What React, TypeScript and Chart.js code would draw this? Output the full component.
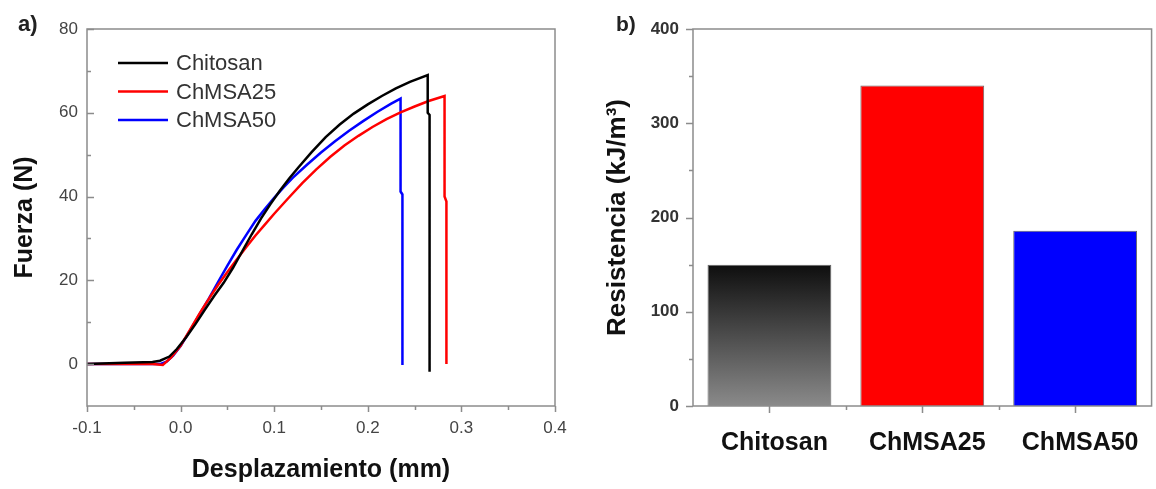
import React, { useEffect, useRef } from 'react';
import { Chart, registerables } from 'chart.js';

Chart.register(...registerables);

const FONT = "'Liberation Sans', Arial, Helvetica, sans-serif";
const AXIS_COLOR = '#8c8c8c';

// ---------- Panel a) : force vs displacement ----------
const SERIES_LABELS = ['Chitosan', 'ChMSA25', 'ChMSA50'];
const SERIES_COLORS = ['#000000', '#ff0000', '#0000ff'];

const chitosanX = [-0.1, -0.06, -0.03, -0.022, -0.012, -0.004, 0.006, 0.016, 0.026, 0.036, 0.046, 0.056, 0.066, 0.076, 0.086, 0.096, 0.106, 0.116, 0.126, 0.14, 0.155, 0.17, 0.185, 0.2, 0.215, 0.23, 0.245, 0.264, 0.264, 0.266, 0.266];
const chitosanY = [0, 0.3, 0.5, 0.8, 1.8, 3.6, 6.4, 9.6, 13.0, 16.3, 19.4, 23.0, 27.0, 31.0, 34.8, 38.2, 41.4, 44.3, 47.0, 50.6, 54.2, 57.2, 59.8, 62.0, 64.0, 65.8, 67.4, 69.0, 60.0, 59.5, -1.8];

const chmsa25X = [-0.1, -0.03, -0.019, -0.01, 0.0, 0.01, 0.02, 0.03, 0.04, 0.05, 0.06, 0.07, 0.08, 0.09, 0.1, 0.115, 0.13, 0.145, 0.16, 0.175, 0.19, 0.205, 0.22, 0.235, 0.25, 0.265, 0.282, 0.282, 0.284, 0.284];
const chmsa25Y = [0, 0, -0.2, 1.6, 4.4, 8.2, 12.0, 15.5, 18.9, 22.0, 25.0, 27.9, 30.7, 33.3, 35.9, 39.6, 43.2, 46.5, 49.5, 52.2, 54.5, 56.6, 58.5, 60.1, 61.5, 62.8, 64.0, 40.0, 38.8, 0];

const chmsa50X = [-0.1, -0.022, -0.015, -0.008, 0.0, 0.01, 0.02, 0.03, 0.04, 0.05, 0.06, 0.07, 0.08, 0.09, 0.1, 0.11, 0.12, 0.135, 0.15, 0.165, 0.18, 0.195, 0.21, 0.225, 0.235, 0.235, 0.237, 0.237];
const chmsa50Y = [0, 0, 0.6, 2.0, 4.3, 8.0, 11.8, 15.6, 19.6, 23.5, 27.3, 30.8, 34.2, 37.0, 39.7, 42.2, 44.5, 47.6, 50.5, 53.2, 55.7, 58.0, 60.2, 62.2, 63.4, 41.2, 40.5, -0.2];

const LEFT_X_TICKS = [-0.1, 0, 0.1, 0.2, 0.3, 0.4];
const LEFT_X_MINOR = [-0.05, 0.05, 0.15, 0.25, 0.35];
const LEFT_Y_TICKS = [0, 20, 40, 60, 80];
const LEFT_Y_MINOR = [10, 30, 50, 70];

// ---------- Panel b) : resistance bars ----------
const BAR_CATEGORIES = ['Chitosan', 'ChMSA25', 'ChMSA50'];
const BAR_VALUES = [150, 340, 186];
const BAR_COLORS = ['#4a4a4a', '#ff0000', '#0000ff'];
const RIGHT_Y_TICKS = [0, 100, 200, 300, 400];
const RIGHT_Y_MINOR = [50, 150, 250, 350];

function toPoints(xs: number[], ys: number[]) {
  return xs.map((x, i) => ({ x, y: ys[i] }));
}

const leftDecor = {
  id: 'leftDecor',
  afterDraw(chart: any) {
    const { ctx, chartArea: a, scales } = chart;
    const xs = scales.x;
    const ys = scales.y;
    ctx.save();
    ctx.strokeStyle = AXIS_COLOR;
    ctx.lineWidth = 1.5;
    ctx.strokeRect(a.left, a.top, a.right - a.left, a.bottom - a.top);
    ctx.beginPath();
    LEFT_Y_TICKS.forEach((v) => {
      const p = Math.round(ys.getPixelForValue(v)) + 0.5;
      ctx.moveTo(a.left, p);
      ctx.lineTo(a.left + 7, p);
    });
    LEFT_Y_MINOR.forEach((v) => {
      const p = Math.round(ys.getPixelForValue(v)) + 0.5;
      ctx.moveTo(a.left, p);
      ctx.lineTo(a.left + 4, p);
    });
    LEFT_X_TICKS.forEach((v) => {
      const p = Math.round(xs.getPixelForValue(v)) + 0.5;
      ctx.moveTo(p, a.bottom);
      ctx.lineTo(p, a.bottom + 6);
    });
    LEFT_X_MINOR.forEach((v) => {
      const p = Math.round(xs.getPixelForValue(v)) + 0.5;
      ctx.moveTo(p, a.bottom);
      ctx.lineTo(p, a.bottom + 4);
    });
    ctx.stroke();

    // legend
    ctx.font = `22px ${FONT}`;
    ctx.textBaseline = 'middle';
    ctx.textAlign = 'left';
    chart.data.datasets.forEach((ds: any, i: number) => {
      const y = a.top + 34 + i * 28.5;
      ctx.strokeStyle = ds.borderColor;
      ctx.lineWidth = 2.5;
      ctx.beginPath();
      ctx.moveTo(a.left + 31, y);
      ctx.lineTo(a.left + 81, y);
      ctx.stroke();
      ctx.fillStyle = '#333333';
      ctx.fillText(ds.label, a.left + 89, y + 1);
    });

    // panel label
    ctx.font = `bold 22px ${FONT}`;
    ctx.fillStyle = '#222222';
    ctx.fillText('a)', 18, 25);
    ctx.restore();
  },
};

const rightDecor = {
  id: 'rightDecor',
  afterDraw(chart: any) {
    const { ctx, chartArea: a, scales } = chart;
    const xs = scales.x;
    const ys = scales.y;
    ctx.save();
    ctx.strokeStyle = AXIS_COLOR;
    ctx.lineWidth = 1.5;
    ctx.strokeRect(a.left, a.top, a.right - a.left, a.bottom - a.top);
    ctx.beginPath();
    RIGHT_Y_TICKS.forEach((v) => {
      const p = Math.round(ys.getPixelForValue(v)) + 0.5;
      ctx.moveTo(a.left, p);
      ctx.lineTo(a.left - 7, p);
    });
    RIGHT_Y_MINOR.forEach((v) => {
      const p = Math.round(ys.getPixelForValue(v)) + 0.5;
      ctx.moveTo(a.left, p);
      ctx.lineTo(a.left - 4, p);
    });
    BAR_CATEGORIES.forEach((_, i) => {
      const p = Math.round(xs.getPixelForValue(i)) + 0.5;
      ctx.moveTo(p, a.bottom);
      ctx.lineTo(p, a.bottom + 7);
      if (i < BAR_CATEGORIES.length - 1) {
        const q = Math.round((xs.getPixelForValue(i) + xs.getPixelForValue(i + 1)) / 2) + 0.5;
        ctx.moveTo(q, a.bottom);
        ctx.lineTo(q, a.bottom + 4);
      }
    });
    ctx.stroke();

    ctx.font = `bold 21px ${FONT}`;
    ctx.fillStyle = '#222222';
    ctx.textBaseline = 'middle';
    ctx.textAlign = 'left';
    ctx.fillText('b)', 26, 25);
    ctx.restore();
  },
};

function LeftChart() {
  const ref = useRef<HTMLCanvasElement | null>(null);
  useEffect(() => {
    if (!ref.current) return;
    const seriesX = [chitosanX, chmsa25X, chmsa50X];
    const seriesY = [chitosanY, chmsa25Y, chmsa50Y];
    const chart = new Chart(ref.current, {
      type: 'line',
      data: {
        datasets: SERIES_LABELS.map((label, i) => ({
          label,
          data: toPoints(seriesX[i], seriesY[i]),
          borderColor: SERIES_COLORS[i],
          backgroundColor: SERIES_COLORS[i],
          borderWidth: 2.5,
          pointRadius: 0,
          tension: 0,
          fill: false,
        })),
      },
      options: {
        animation: false,
        responsive: false,
        events: [],
        layout: { padding: { left: 0, top: 29, right: 35, bottom: 0 } },
        plugins: { legend: { display: false }, tooltip: { enabled: false } },
        scales: {
          x: {
            type: 'linear',
            min: -0.1,
            max: 0.4,
            afterBuildTicks: (s: any) => {
              s.ticks = LEFT_X_TICKS.map((v) => ({ value: v }));
            },
            afterFit: (s: any) => {
              s.height = 83;
            },
            grid: { display: false, drawTicks: false },
            border: { display: false },
            ticks: {
              padding: 12,
              color: '#444444',
              font: { family: FONT, size: 17 },
              callback: (v: any) => Number(v).toFixed(1),
            },
            title: {
              display: true,
              text: 'Desplazamiento (mm)',
              color: '#111111',
              font: { family: FONT, size: 25, weight: 'bold' },
              padding: { top: 0, bottom: 4 },
            },
          },
          y: {
            type: 'linear',
            min: -10,
            max: 80,
            afterBuildTicks: (s: any) => {
              s.ticks = LEFT_Y_TICKS.map((v) => ({ value: v }));
            },
            afterFit: (s: any) => {
              s.width = 87;
            },
            grid: { display: false, drawTicks: false },
            border: { display: false },
            ticks: {
              padding: 9,
              color: '#444444',
              font: { family: FONT, size: 17 },
            },
            title: {
              display: true,
              text: 'Fuerza (N)',
              color: '#111111',
              font: { family: FONT, size: 25, weight: 'bold' },
              padding: { top: 10, bottom: 0 },
            },
          },
        },
      } as any,
      plugins: [leftDecor],
    });
    return () => chart.destroy();
  }, []);
  return (
    <canvas
      ref={ref}
      width={590}
      height={489}
      style={{ position: 'absolute', left: 0, top: 0, width: 590, height: 489 }}
    />
  );
}

function RightChart() {
  const ref = useRef<HTMLCanvasElement | null>(null);
  useEffect(() => {
    if (!ref.current) return;
    const chart = new Chart(ref.current, {
      type: 'bar',
      data: {
        labels: BAR_CATEGORIES,
        datasets: [
          {
            label: 'Resistencia',
            data: BAR_VALUES,
            backgroundColor: (c: any) => {
              if (c.type !== 'data') return BAR_COLORS[0];
              const i = c.dataIndex;
              if (i !== 0) return BAR_COLORS[i];
              const chart = c.chart;
              const ys = chart.scales && chart.scales.y;
              if (!ys || !chart.chartArea) return BAR_COLORS[0];
              const top = ys.getPixelForValue(BAR_VALUES[0]);
              const bottom = ys.getPixelForValue(0);
              const g = chart.ctx.createLinearGradient(0, top, 0, bottom);
              g.addColorStop(0, '#0e0e0e');
              g.addColorStop(1, '#8a8a8a');
              return g;
            },
            borderColor: '#666666',
            borderWidth: 1,
            barPercentage: 0.9,
            categoryPercentage: 0.9,
          },
        ],
      },
      options: {
        animation: false,
        responsive: false,
        events: [],
        layout: { padding: { left: 0, top: 29, right: 3, bottom: 0 } },
        plugins: { legend: { display: false }, tooltip: { enabled: false } },
        scales: {
          x: {
            type: 'category',
            afterFit: (s: any) => {
              s.height = 83;
            },
            grid: { display: false, drawTicks: false },
            border: { display: false },
            ticks: {
              padding: 22,
              labelOffset: 5,
              color: '#111111',
              font: { family: FONT, size: 25, weight: 'bold' },
            },
          },
          y: {
            type: 'linear',
            min: 0,
            max: 400,
            afterBuildTicks: (s: any) => {
              s.ticks = RIGHT_Y_TICKS.map((v) => ({ value: v }));
            },
            afterFit: (s: any) => {
              s.width = 103;
            },
            grid: { display: false, drawTicks: false },
            border: { display: false },
            ticks: {
              padding: 14,
              color: '#333333',
              font: { family: FONT, size: 17, weight: 'bold' },
            },
            title: {
              display: true,
              text: 'Resistencia (kJ/m³)',
              color: '#111111',
              font: { family: FONT, size: 26, weight: 'bold' },
              padding: { top: 12, bottom: 0 },
            },
          },
        },
      } as any,
      plugins: [rightDecor],
    });
    return () => chart.destroy();
  }, []);
  return (
    <canvas
      ref={ref}
      width={566}
      height={489}
      style={{ position: 'absolute', left: 590, top: 0, width: 566, height: 489 }}
    />
  );
}

export default function App() {
  return (
    <div
      style={{
        position: 'absolute',
        left: 0,
        top: 0,
        width: 1156,
        height: 489,
        background: '#ffffff',
        overflow: 'hidden',
      }}
    >
      <LeftChart />
      <RightChart />
    </div>
  );
}
